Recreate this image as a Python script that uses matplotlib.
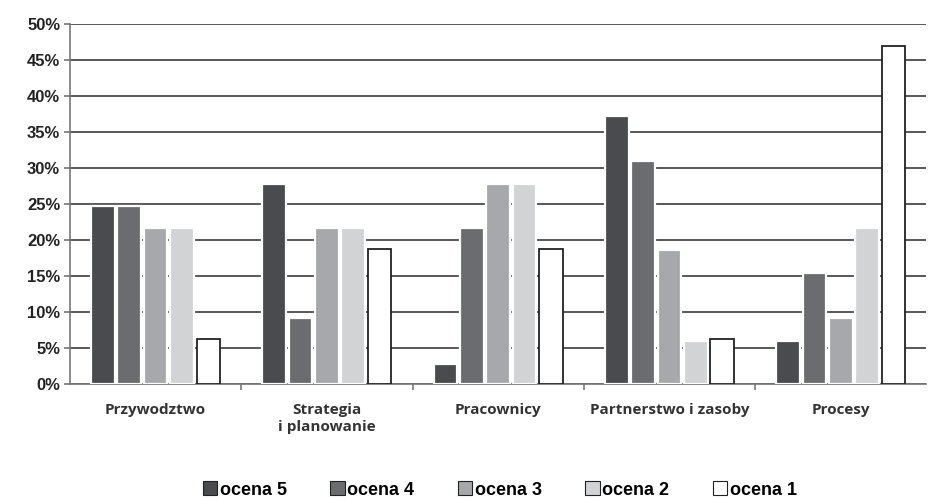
import matplotlib
matplotlib.use("Agg")
import matplotlib.pyplot as plt
import numpy as np
from matplotlib.ticker import FuncFormatter, FixedLocator

categories = ["Przywodztwo", "Strategia\ni planowanie", "Pracownicy",
              "Partnerstwo i zasoby", "Procesy"]
series_names = ["ocena 5", "ocena 4", "ocena 3", "ocena 2", "ocena 1"]
ocena5 = [24.7, 27.8, 2.8, 37.2, 5.9]
ocena4 = [24.7, 9.1, 21.7, 30.9, 15.4]
ocena3 = [21.7, 21.7, 27.8, 18.6, 9.1]
ocena2 = [21.7, 21.7, 27.8, 5.9, 21.7]
ocena1 = [6.2, 18.8, 18.8, 6.2, 46.9]
series = [ocena5, ocena4, ocena3, ocena2, ocena1]
yticks = [0, 5, 10, 15, 20, 25, 30, 35, 40, 45, 50]

fills = ["#4a4b4e", "#6b6c70", "#a7a8ab", "#d2d3d5", "#ffffff"]
edges = ["#ffffff", "#ffffff", "#ffffff", "#ffffff", "#222222"]

fig = plt.figure(figsize=(9.29, 4.99), dpi=100)
ax = fig.add_axes([0.0753, 0.2305, 0.922, 0.722])

x = np.arange(len(categories))
step = 0.154
width = 0.138
handles = []
for i, (vals, name) in enumerate(zip(series, series_names)):
    offs = (i - 2) * step
    b = ax.bar(x + offs, vals, width, color=fills[i], edgecolor=edges[i],
               linewidth=1.6 if i < 4 else 1.3, label=name, zorder=3)
    handles.append(b)

ax.set_xlim(-0.5, len(categories) - 0.5)
ax.set_ylim(0, 50)
ax.yaxis.set_major_locator(FixedLocator(yticks))
ax.yaxis.set_major_formatter(FuncFormatter(lambda v, p: f"{int(v)}%"))
ax.grid(axis="y", color="#2a2a2a", linewidth=1.1, zorder=1)
ax.set_axisbelow(True)

for s in ["top", "right"]:
    ax.spines[s].set_visible(False)
ax.spines["left"].set_color("#777777")
ax.spines["bottom"].set_color("#777777")
ax.spines["left"].set_linewidth(1.2)
ax.spines["bottom"].set_linewidth(1.2)

ax.tick_params(axis="y", length=4, width=1.2, color="#777777", pad=3)
for lbl in ax.get_yticklabels():
    lbl.set_fontfamily("Liberation Sans")
    lbl.set_fontweight("bold")
    lbl.set_fontsize(12)
    lbl.set_color("#222222")

# category boundaries carry the ticks, labels sit at centers
ax.set_xticks(np.arange(0.5, len(categories) - 0.5), minor=False)
ax.set_xticklabels([])
ax.tick_params(axis="x", which="major", length=4, width=1.2, color="#777777")
ax.set_xticks(x, minor=True)
ax.set_xticklabels(categories, minor=True, fontfamily="Open Sans",
                   fontweight="bold", fontsize=11, color="#333333",
                   linespacing=1.2)
ax.tick_params(axis="x", which="minor", length=0, pad=14)

leg = fig.legend(handles=handles, labels=series_names, loc="center",
                 bbox_to_anchor=(0.538, 0.018), ncol=5, frameon=False,
                 prop={"family": "Liberation Sans", "weight": "bold", "size": 13},
                 handlelength=0.8, handleheight=0.8, handletextpad=0.15,
                 columnspacing=2.4)
for h in leg.legend_handles:
    h.set_edgecolor("#222222")
    h.set_linewidth(0.8)

fig.savefig("out.png", dpi=100)
